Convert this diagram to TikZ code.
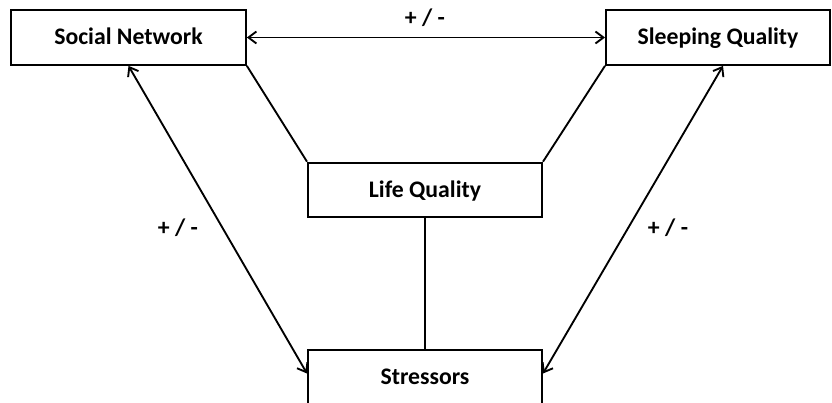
\documentclass[tikz,border=0pt]{standalone}
\usepackage{fontspec}
\setmainfont{Carlito}
\usetikzlibrary{arrows.meta}

\tikzset{
    factor/.style={draw, line width=1.5pt, minimum height=41pt, text height=13pt, text depth=2.5pt, font=\bfseries\fontsize{17.8}{20}\selectfont},
    sign/.style={font=\bfseries\fontsize{17.8}{20}\selectfont},
    link/.style={line width=1.4pt},
    both/.style={line width=1.4pt, {Straight Barb[length=6pt,width=9pt]}-{Straight Barb[length=6pt,width=9pt]}}
}

\begin{document}
\begin{tikzpicture}[x=0.75pt, y=-0.75pt]
    \clip (0,0) rectangle (832,403);
    \node[factor, minimum width=176pt] (sn) at (128.5, 37.5) {Social Network};
    \node[factor, minimum width=168pt] (sq) at (718, 37.5) {Sleeping Quality};
    \node[factor, minimum width=175.5pt] (lq) at (425, 190) {Life Quality};
    \node[factor, minimum width=175.5pt] (st) at (425, 377.5) {Stressors};

    \draw[link] (sn.south east) -- (lq.north west);
    \draw[link] (sq.south west) -- (lq.north east);
    \draw[link] (lq) -- (st);

    \draw[both] (sn) -- (sq);
    \draw[both] (sn.south) -- ([yshift=3pt]st.west);
    \draw[both] ([xshift=3.75pt]sq.south) -- ([yshift=3pt]st.east);

    \node[sign] (s1) at (425, 18) {+ / -};
    \node[sign] (s2) at (178, 228) {+ / -};
    \node[sign] (s3) at (668, 228) {+ / -};
\end{tikzpicture}
\end{document}
